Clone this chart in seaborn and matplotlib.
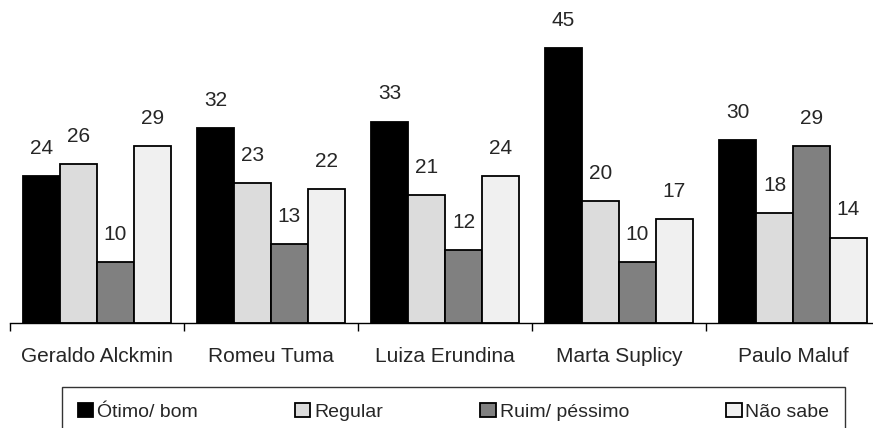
import matplotlib
matplotlib.use("Agg")
import matplotlib.pyplot as plt
import seaborn as sns
import pandas as pd

# data
candidates = ['Geraldo Alckmin', 'Romeu Tuma', 'Luiza Erundina', 'Marta Suplicy', 'Paulo Maluf']
ratings = ['Ótimo/ bom', 'Regular', 'Ruim/ péssimo', 'Não sabe']
otimo = [24, 32, 33, 45, 30]
regular = [26, 23, 21, 20, 18]
ruim = [10, 13, 12, 10, 29]
nao_sabe = [29, 22, 24, 17, 14]

rows = []
for r, vals in zip(ratings, [otimo, regular, ruim, nao_sabe]):
    for c, v in zip(candidates, vals):
        rows.append({'candidato': c, 'avaliacao': r, 'pct': v})
df = pd.DataFrame(rows)

sns.set_style('white')
plt.rcParams['font.family'] = ['Liberation Sans', 'DejaVu Sans']

fig = plt.figure(figsize=(8.73, 4.28), dpi=100)
ax = fig.add_axes([10/873, 105/428, 870/873, 323/428])

palette = ['#000000', '#dcdcdc', '#808080', '#f0f0f0']
sns.barplot(data=df, x='candidato', y='pct', hue='avaliacao', order=candidates,
            hue_order=ratings, palette=palette, width=0.85, saturation=1,
            edgecolor='black', linewidth=1.3, ax=ax)

for cont in ax.containers:
    ax.bar_label(cont, padding=13, fontsize=15)

ax.set_ylim(0, 52.9)
ax.set_xlim(-0.5, 4.5)
ax.set_yticks([])
ax.set_xlabel('')
ax.set_ylabel('')
for s in ['left', 'right', 'top']:
    ax.spines[s].set_visible(False)
ax.spines['bottom'].set_color('black')
ax.spines['bottom'].set_linewidth(1)

ax.set_xticks([i - 0.5 for i in range(6)], minor=True)
ax.tick_params(axis='x', which='minor', direction='out', length=6, width=1, color='black', bottom=True)
ax.tick_params(axis='x', which='major', length=0, pad=17, labelsize=15)

handles, labels = ax.get_legend_handles_labels()
ax.get_legend().remove()
leg = fig.legend(handles, labels, loc='upper left', ncol=4, mode='expand',
                 bbox_to_anchor=(62/873, 41/428 - 0.2, 783/873, 0.2),
                 borderaxespad=0, fontsize=14, frameon=True, fancybox=False,
                 handlelength=0.8, handleheight=0.8, handletextpad=0.2,
                 borderpad=0.8)
leg.get_frame().set_edgecolor('black')
leg.get_frame().set_linewidth(1)

fig.savefig('out.png', dpi=100)
